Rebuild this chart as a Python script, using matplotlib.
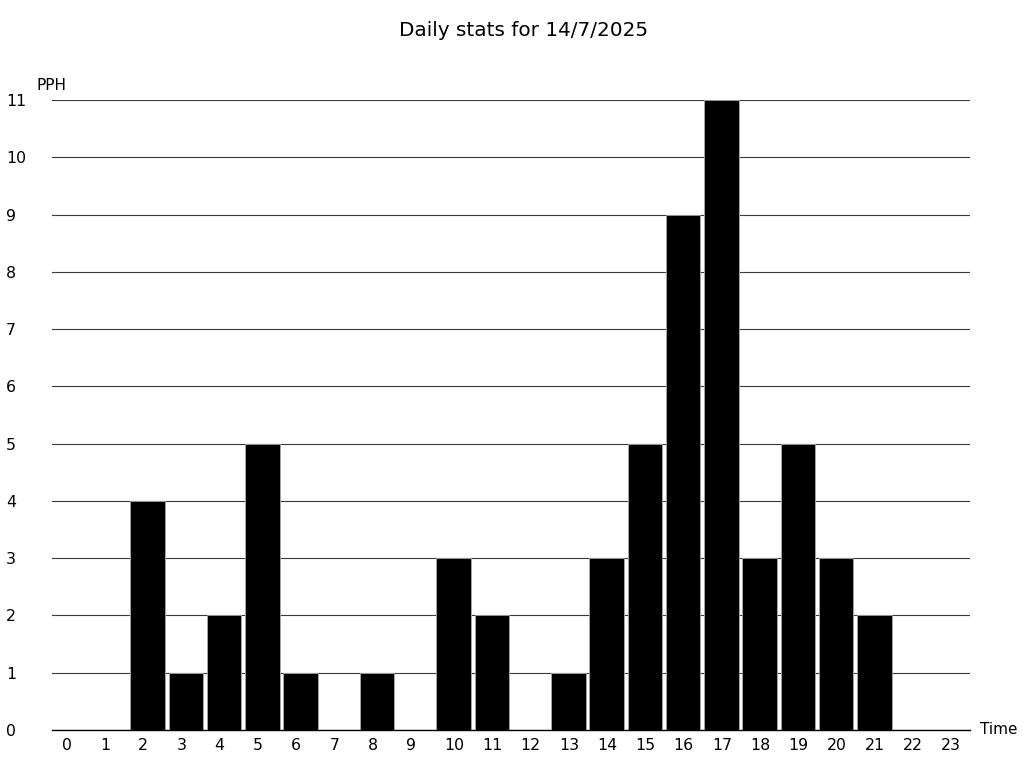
import numpy as np
import matplotlib.pyplot as plt
from matplotlib.transforms import ScaledTranslation

hours = list(range(24))
pph = [0, 0, 4, 1, 2, 5, 1, 0, 1, 0, 3, 2, 0, 1, 3, 5, 9, 11, 3, 5, 3, 2, 0, 0]
y_ticks = list(range(12))
title = 'Daily stats for 14/7/2025'

fig = plt.figure(figsize=(10.24, 7.68), dpi=100)
ax = fig.add_axes([52 / 1024, 38 / 768, 918 / 1024, 630 / 768])

ax.bar(hours, pph, width=0.9, color='black', edgecolor='#aaaaaa', linewidth=0.6, zorder=3)

ax.set_xlim(-0.5, 23.5)
ax.set_ylim(0, 11)
ax.set_xticks(hours)
ax.set_yticks(y_ticks)
ax.tick_params(length=0, labelsize=11.3)
ax.grid(axis='y', color='#3a3a3a', linewidth=0.8, zorder=0)
ax.set_axisbelow(True)
for s in ax.spines.values():
    s.set_visible(False)
ax.spines['bottom'].set_visible(True)
ax.spines['bottom'].set_color('black')
ax.spines['bottom'].set_linewidth(1.0)

# x labels start a bit left of the bar centre
for lab in ax.get_xticklabels():
    lab.set_ha('left')
    lab.set_transform(lab.get_transform() + ScaledTranslation(-9.5 / 100, -3 / 100, fig.dpi_scale_trans))
# y labels left aligned at the figure edge
for lab in ax.get_yticklabels():
    lab.set_ha('left')
    lab.set_transform(lab.get_transform() + ScaledTranslation(-41 / 100, 0, fig.dpi_scale_trans))

fig.text(524 / 1024, 1 - 30 / 768, title, ha='center', va='center', fontsize=14.4)
fig.text(37 / 1024, 1 - 85 / 768, 'PPH', ha='left', va='center', fontsize=11)
fig.text(980 / 1024, 1 - 730 / 768, 'Time', ha='left', va='center', fontsize=11)

plt.savefig('out.png', dpi=100)
